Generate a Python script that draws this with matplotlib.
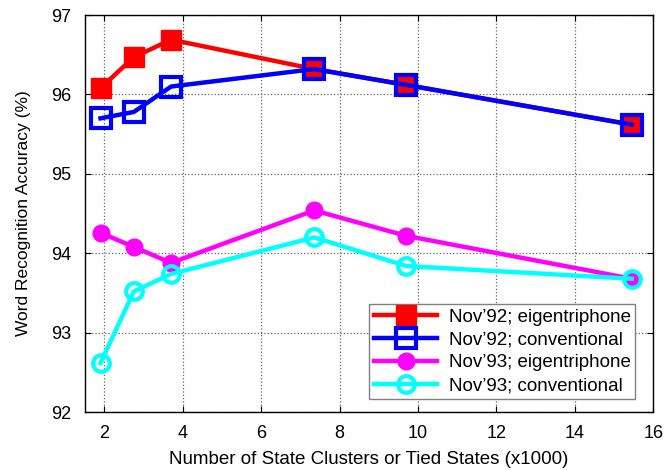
import matplotlib

matplotlib.use("Agg")

import matplotlib.pyplot as plt

plt.rcParams["font.family"] = ["Liberation Sans", "DejaVu Sans"]

# Number of state clusters / tied states (x1000)
clusters = [1.9, 2.75, 3.7, 7.35, 9.7, 15.45]

# Word recognition accuracy (%)
nov92_eigen = [96.08, 96.47, 96.69, 96.32, 96.12, 95.62]
nov92_conv = [95.70, 95.78, 96.10, 96.32, 96.12, 95.62]
nov93_eigen = [94.26, 94.08, 93.88, 94.54, 94.22, 93.68]
nov93_conv = [92.62, 93.52, 93.74, 94.20, 93.84, 93.68]

labels = [
    "Nov\u201992; eigentriphone",
    "Nov\u201992; conventional",
    "Nov\u201993; eigentriphone",
    "Nov\u201993; conventional",
]

fig = plt.figure(figsize=(6.68, 4.70), dpi=100)
ax = fig.add_axes([0.127, 0.123, 0.851, 0.845])

ax.plot(clusters, nov92_eigen, color="red", lw=3.2, marker="s", ms=14,
        mfc="red", mec="red", label=labels[0])
ax.plot(clusters, nov92_conv, color="blue", lw=3.2, marker="s", ms=14,
        mfc="none", mec="blue", mew=3, label=labels[1])
ax.plot(clusters, nov93_eigen, color="magenta", lw=3.2, marker="o", ms=12,
        mfc="magenta", mec="magenta", label=labels[2])
ax.plot(clusters, nov93_conv, color="cyan", lw=3.2, marker="o", ms=12,
        mfc="none", mec="cyan", mew=3, label=labels[3])

ax.set_xlim(1.5, 16)
ax.set_ylim(92, 97)
ax.set_xticks(range(2, 17, 2))
ax.set_yticks(range(92, 98))
ax.grid(True, linestyle=":", color="0.4", linewidth=0.9)
ax.tick_params(direction="in", top=True, right=True, labelsize=13, length=4)
ax.tick_params(axis="x", pad=9)
ax.tick_params(axis="y", pad=10)
for s in ax.spines.values():
    s.set_linewidth(1.0)

ax.set_xlabel("Number of State Clusters or Tied States (x1000)", fontsize=13.5, labelpad=7)
ax.set_ylabel("Word Recognition Accuracy (%)", fontsize=12.5, labelpad=14)

leg = ax.legend(loc="lower right", fontsize=13.5, fancybox=False, framealpha=1,
                edgecolor="0.5", handlelength=3.4, borderpad=0.25, labelspacing=0.3,
                handletextpad=0.6, bbox_to_anchor=(0.985, 0.01))
leg.get_frame().set_linewidth(1.0)

fig.savefig("out.png", dpi=100)
